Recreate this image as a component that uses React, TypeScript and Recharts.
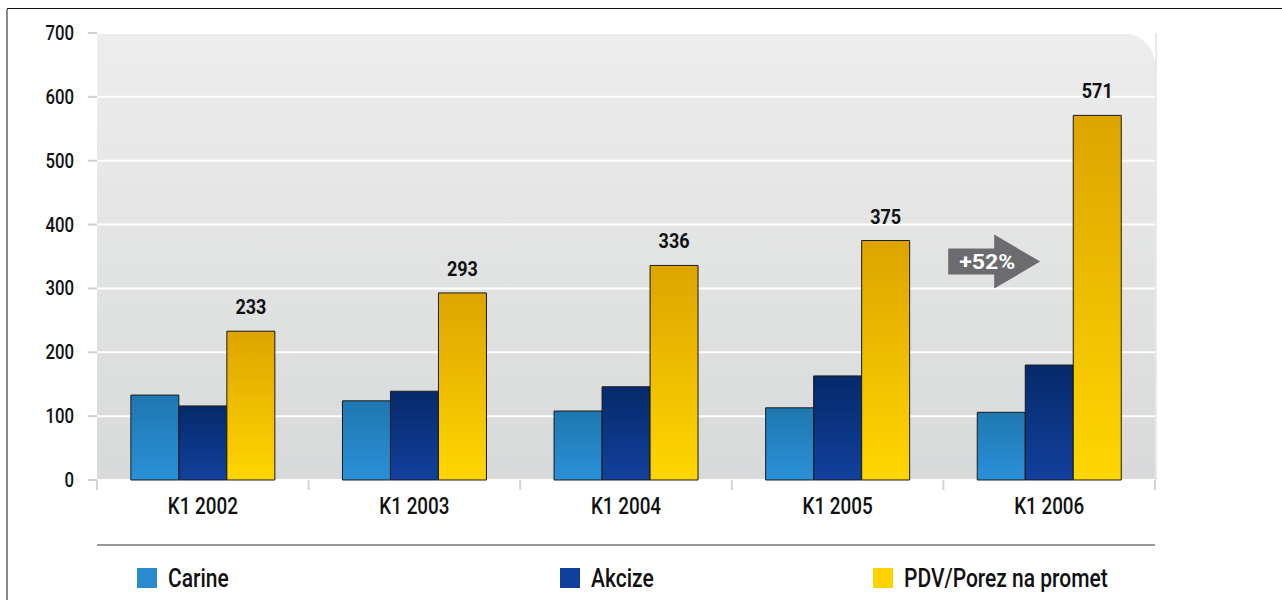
import React from 'react';
import {
  BarChart, Bar, XAxis, YAxis, CartesianGrid, LabelList, ReferenceDot, ReferenceArea,
} from 'recharts';

const categories = ['K1 2002', 'K1 2003', 'K1 2004', 'K1 2005', 'K1 2006'];
const carine = [133, 124, 108, 113, 106];
const akcize = [116, 139, 146, 163, 180];
const pdv = [233, 293, 336, 375, 571];
const yTicks = [0, 100, 200, 300, 400, 500, 600, 700];
const seriesNames = ['Carine', 'Akcize', 'PDV/Porez na promet'];
const growthLabel = '+52%';

const data = categories.map((cat, i) => ({
  cat,
  carine: carine[i],
  akcize: akcize[i],
  pdv: pdv[i],
}));

const W = 1282;
const H = 600;
const X_AXIS_H = 30;
const M = { top: 33, right: 127, bottom: 90, left: 0 };
const Y_AXIS_W = 97;
const PLOT_BOTTOM = H - M.bottom - X_AXIS_H;
const PLOT_W = W - M.left - M.right - Y_AXIS_W;
const BAND = PLOT_W / categories.length;
const FONT = "Roboto, 'Liberation Sans', sans-serif";

// narrow text, the original uses a condensed face
const NarrowText = ({ x, y, size, squeeze, anchor = 'middle', weight = 500, fill = '#111', children }: any) => (
  <text
    transform={`translate(${x},${y}) scale(${squeeze},1)`}
    textAnchor={anchor}
    fontSize={size}
    fontWeight={weight}
    fontFamily={FONT}
    fill={fill}
  >
    {children}
  </text>
);

const CategoryTick = (props: any) => {
  const { x, payload, index } = props;
  const top = PLOT_BOTTOM;
  return (
    <g>
      <line x1={x - BAND / 2} x2={x - BAND / 2} y1={top} y2={top + 10} stroke="#d4d4d4" strokeWidth={2} />
      {index === categories.length - 1 && (
        <line x1={x + BAND / 2} x2={x + BAND / 2} y1={top} y2={top + 10} stroke="#d4d4d4" strokeWidth={2} />
      )}
      <NarrowText x={x} y={top + 34} size={23} squeeze={0.82}>{payload.value}</NarrowText>
    </g>
  );
};

const ValueTick = (props: any) => {
  const { x, y, payload } = props;
  return <NarrowText x={x} y={y + 7} size={20} squeeze={0.84} anchor="end">{payload.value}</NarrowText>;
};

const TopLabel = (props: any) => {
  const { x, y, width, value } = props;
  return <NarrowText x={x + width / 2} y={y - 17} size={20} squeeze={0.9} weight={700}>{value}</NarrowText>;
};

// white sliver that rounds the top-right corner of the plot background
const CornerShape = (props: any) => {
  const { x, y, width, height } = props;
  const r = 32;
  const xr = x + width;
  return (
    <g>
      <path d={`M ${xr - r} ${y} A ${r} ${r} 0 0 1 ${xr} ${y + r} L ${xr + 1} ${y + r} L ${xr + 1} ${y - 1} Z`} fill="#fff" />
      <line x1={xr + 1} x2={xr + 1} y1={y} y2={y + height} stroke="#e2e2e2" strokeWidth={1.5} />
    </g>
  );
};

const GrowthArrow = (props: any) => {
  const { cx, cy } = props;
  const bl = cx - 101;
  const br = cx - 55;
  const tip = cx - 9;
  return (
    <g>
      <path
        d={`M ${bl} ${cy - 13} L ${br} ${cy - 13} L ${br} ${cy - 27} L ${tip} ${cy} L ${br} ${cy + 27} L ${br} ${cy + 13} L ${bl} ${cy + 13} Z`}
        fill="#6b6b70"
      />
      <text
        x={cx - 90}
        y={cy + 7}
        fontSize={20}
        fontWeight="bold"
        fontFamily={FONT}
        fill="#fff"
        textLength={56}
        lengthAdjust="spacingAndGlyphs"
      >
        {growthLabel}
      </text>
    </g>
  );
};

const legendColors = ['#2a8ad0', '#0f3f9a', '#ffd200'];
const legendLeft = [137, 560, 873];

export default function App() {
  return (
    <div style={{ position: 'absolute', left: 0, top: 0, width: W, height: H, background: '#fff', overflow: 'hidden' }}>
      <div style={{ position: 'absolute', left: 7, top: 8, right: 0, height: 1, background: '#111' }} />
      <div style={{ position: 'absolute', left: 6, top: 9, width: 2, bottom: 0, background: '#8a8a8a' }} />
      <div style={{ position: 'absolute', left: 97, top: 544, width: 1058, height: 2, background: '#9a9a9a' }} />
      <BarChart width={W} height={H} data={data} margin={M} barCategoryGap="16%" barGap={0}>
        <defs>
          <linearGradient id="bg" x1="0" y1="0" x2="0" y2="1">
            <stop offset="0%" stopColor="#ecedec" />
            <stop offset="100%" stopColor="#d8d9da" />
          </linearGradient>
          <linearGradient id="gCarine" x1="0" y1="0" x2="0" y2="1">
            <stop offset="0%" stopColor="#1f77b0" />
            <stop offset="100%" stopColor="#2a91d7" />
          </linearGradient>
          <linearGradient id="gAkcize" x1="0" y1="0" x2="0" y2="1">
            <stop offset="0%" stopColor="#052a6b" />
            <stop offset="100%" stopColor="#12409c" />
          </linearGradient>
          <linearGradient id="gPdv" x1="0" y1="0" x2="0" y2="1">
            <stop offset="0%" stopColor="#dea400" />
            <stop offset="100%" stopColor="#ffd600" />
          </linearGradient>
        </defs>
        <CartesianGrid vertical={false} stroke="#fff" strokeWidth={2} fill="url(#bg)" fillOpacity={1} />
        <XAxis dataKey="cat" height={X_AXIS_H} axisLine={false} tickLine={false} tick={<CategoryTick />} interval={0} />
        <YAxis
          width={Y_AXIS_W}
          domain={[0, 700]}
          ticks={yTicks}
          interval={0}
          axisLine={false}
          tickLine={{ stroke: '#d0d0d0', strokeWidth: 2 }}
          tickSize={9}
          tickMargin={14}
          tick={<ValueTick />}
        />
        <ReferenceArea y1={0} y2={700} shape={<CornerShape />} ifOverflow="visible" />
        <Bar dataKey="carine" name={seriesNames[0]} fill="url(#gCarine)" stroke="#1a1a1a" strokeWidth={1} isAnimationActive={false} />
        <Bar dataKey="akcize" name={seriesNames[1]} fill="url(#gAkcize)" stroke="#1a1a1a" strokeWidth={1} isAnimationActive={false} />
        <Bar dataKey="pdv" name={seriesNames[2]} fill="url(#gPdv)" stroke="#1a1a1a" strokeWidth={1} isAnimationActive={false}>
          <LabelList dataKey="pdv" content={<TopLabel />} />
        </Bar>
        <ReferenceDot x="K1 2006" y={342} shape={<GrowthArrow />} ifOverflow="visible" />
      </BarChart>
      {seriesNames.map((name, i) => (
        <div
          key={name}
          style={{ position: 'absolute', left: legendLeft[i], top: 567, height: 22, display: 'flex', alignItems: 'center' }}
        >
          <span style={{ display: 'inline-block', width: 20, height: 20, background: legendColors[i] }} />
          <span
            style={{
              marginLeft: 11, fontSize: 25, fontWeight: 500, fontFamily: FONT, color: '#111', whiteSpace: 'nowrap',
              display: 'inline-block', transform: 'scaleX(0.84)', transformOrigin: 'left center',
            }}
          >
            {name}
          </span>
        </div>
      ))}
    </div>
  );
}
